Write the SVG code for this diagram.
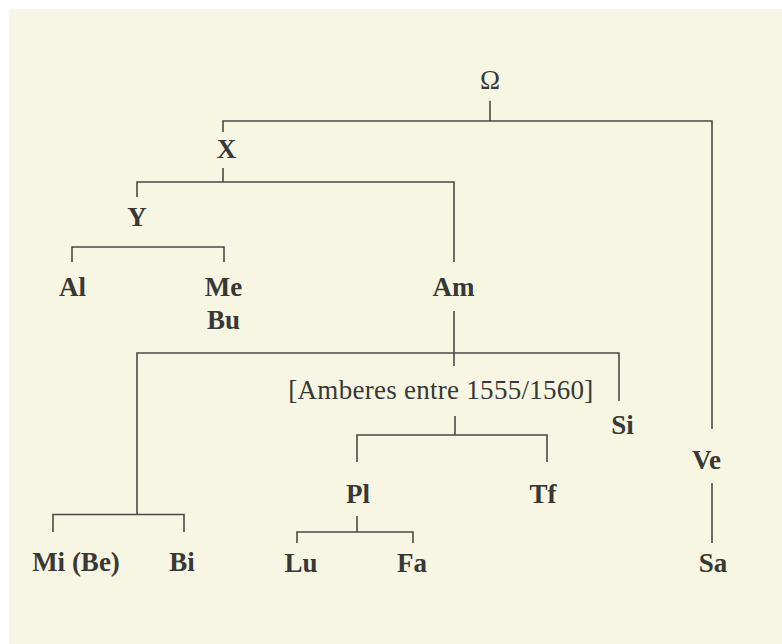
<svg xmlns="http://www.w3.org/2000/svg" width="782" height="644" viewBox="0 0 782 644">
<style>
.bg{fill:#f7f6e2}
.ln{fill:none;stroke:#4a4a48;stroke-width:1.6}
.lb{font-family:"Liberation Serif","DejaVu Serif",serif;font-weight:bold;font-size:27px;fill:#383836;text-anchor:middle}
.rg{font-family:"Liberation Serif","DejaVu Serif",serif;font-weight:normal;font-size:27px;fill:#383836;text-anchor:middle}
</style>
<rect x="0" y="0" width="782" height="644" fill="#ffffff"/>
<rect class="bg" x="9" y="9" width="773" height="635"/>
<g id="connectors">
<path class="ln" d="M490,101V121"/>
<path class="ln" d="M223,132V121H712V429"/>
<path class="ln" d="M223,168V182"/>
<path class="ln" d="M137,197V182H454V262"/>
<path class="ln" d="M72,262V247H224V262"/>
<path class="ln" d="M454,311V366"/>
<path class="ln" d="M137,514.5V353H619V401"/>
<path class="ln" d="M53,532V514.5H184V532"/>
<path class="ln" d="M455,416V435"/>
<path class="ln" d="M357,462V435H547V462"/>
<path class="ln" d="M712,483V543"/>
<path class="ln" d="M357,516V532"/>
<path class="ln" d="M297,543V532H413V543"/>
</g>
<g id="node-omega"><text class="rg" x="490" y="89" font-size="25">Ω</text></g>
<g id="node-X"><text class="lb" x="226.5" y="158">X</text></g>
<g id="node-Y"><text class="lb" x="137" y="226">Y</text></g>
<g id="node-Al"><text class="lb" x="72.5" y="296">Al</text></g>
<g id="node-MeBu"><text class="lb" x="223.5" y="296">Me</text><text class="lb" x="223.5" y="329">Bu</text></g>
<g id="node-Am"><text class="lb" x="453.5" y="296">Am</text></g>
<g id="node-Amberes"><text class="rg" x="440.8" y="399" textLength="305" lengthAdjust="spacing">[Amberes entre 1555/1560]</text></g>
<g id="node-Si"><text class="lb" x="622.5" y="434">Si</text></g>
<g id="node-Ve"><text class="lb" x="706.5" y="469">Ve</text></g>
<g id="node-Pl"><text class="lb" x="358" y="503">Pl</text></g>
<g id="node-Tf"><text class="lb" x="543" y="503">Tf</text></g>
<g id="node-MiBe"><text class="lb" x="76" y="571">Mi (Be)</text></g>
<g id="node-Bi"><text class="lb" x="182" y="571">Bi</text></g>
<g id="node-Lu"><text class="lb" x="301" y="572">Lu</text></g>
<g id="node-Fa"><text class="lb" x="412" y="572">Fa</text></g>
<g id="node-Sa"><text class="lb" x="713" y="572">Sa</text></g>
</svg>
